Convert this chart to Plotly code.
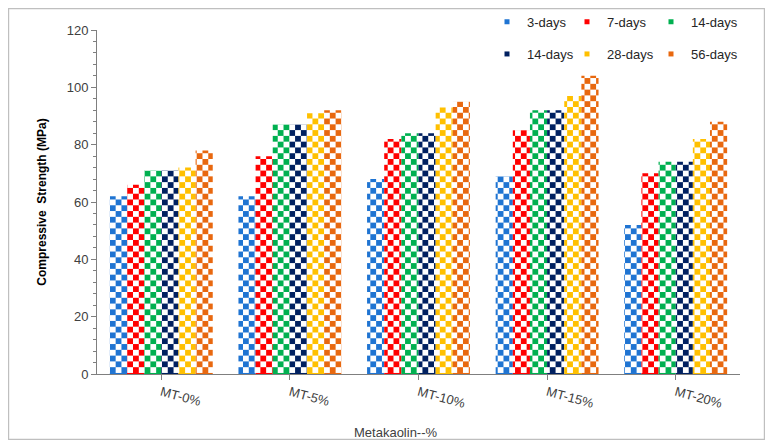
import base64
import plotly.graph_objects as go

categories = ["MT-0%", "MT-5%", "MT-10%", "MT-15%", "MT-20%"]
series_names = ["3-days", "7-days", "14-days", "14-days", "28-days", "56-days"]
days_3 = [62, 62, 68, 69, 52]
days_7 = [66, 76, 82, 85, 70]
days_14a = [71, 87, 84, 92, 74]
days_14b = [71, 87, 84, 92, 74]
days_28 = [72, 91, 93, 97, 82]
days_56 = [78, 92, 95, 104, 88]
colors = ["#1F74D2", "#FF0000", "#00B050", "#002060", "#FFC000", "#E8680F"]
y_ticks = [0, 20, 40, 60, 80, 100, 120]

values = [days_3, days_7, days_14a, days_14b, days_28, days_56]

# page has an 8px body margin, so the figure is sized to fit the 773x448 window
OFF = 8
W, H = 773 - 2 * OFF, 448 - 2 * OFF
ML, MT = 97 - OFF, 30 - OFF
MR, MB = W - (740 - OFF), H - (374 - OFF)
PW, PH = W - ML - MR, H - MT - MB
FONT = "Arial, Liberation Sans, sans-serif"


def px(X):
    return (X - OFF - ML) / PW


def py(Y):
    return (MT + PH - (Y - OFF)) / PH


fig = go.Figure()
for name, vals, col in zip(series_names, values, colors):
    fig.add_trace(go.Bar(x=categories, y=vals, name=name, marker=dict(color=col, line=dict(width=0)),
                         showlegend=False))

# legend proxies (small square swatches), one legend box per entry (3 columns x 2 rows)
legend_ids = ["legend", "legend2", "legend3", "legend4", "legend5", "legend6"]
for name, col, lid in zip(series_names, colors, legend_ids):
    fig.add_trace(go.Scatter(x=[None], y=[None], mode="markers", name=name,
                             marker=dict(symbol="square", size=5, color=col), legend=lid))

# checkerboard texture mask (white squares) over the bar area
s = 5.8
svg = (f"<svg xmlns='http://www.w3.org/2000/svg' width='{PW}' height='{PH}'>"
       f"<defs><pattern id='p' width='{2*s}' height='{2*s}' patternUnits='userSpaceOnUse' x='0' y='{PH % (2*s)}'>"
       f"<rect width='{s}' height='{s}' fill='white'/>"
       f"<rect x='{s}' y='{s}' width='{s}' height='{s}' fill='white'/></pattern></defs>"
       f"<rect width='100%' height='100%' fill='url(#p)'/></svg>")
src = "data:image/svg+xml;base64," + base64.b64encode(svg.encode()).decode()
fig.add_layout_image(dict(source=src, xref="paper", yref="paper", x=0.002, y=1, sizex=0.998, sizey=0.997,
                          xanchor="left", yanchor="top", sizing="stretch", layer="above"))

leg_common = dict(orientation="h", font=dict(family=FONT, size=13, color="#262626"),
                  bgcolor="rgba(0,0,0,0)", xanchor="left", yanchor="middle", itemwidth=30)
text_x = [528, 608, 692]
row_y = [21.7, 54]
legends = {}
for k, lid in enumerate(legend_ids):
    legends[lid] = dict(x=px(text_x[k % 3] - 41), y=py(row_y[k // 3]), **leg_common)

fig.update_layout(
    width=W, height=H,
    margin=dict(l=ML, r=MR, t=MT, b=MB, autoexpand=False),
    paper_bgcolor="white", plot_bgcolor="white",
    barmode="group", bargap=0.2, bargroupgap=0,
    font=dict(family=FONT, size=13, color="#404040"),
    xaxis=dict(type="category", showline=True, linecolor="#7F7F7F", linewidth=1,
               ticks="outside", ticklen=5, tickcolor="#7F7F7F", tickangle=15,
               tickfont=dict(family=FONT, size=13, color="#404040"), showgrid=False, zeroline=False),
    yaxis=dict(range=[0, 120], tickvals=y_ticks, showline=True, linecolor="#7F7F7F", linewidth=1,
               ticks="outside", ticklen=5, tickcolor="#7F7F7F",
               minor=dict(dtick=4, ticks="outside", ticklen=3, tickcolor="#7F7F7F", showgrid=False),
               tickfont=dict(family=FONT, size=13, color="#404040"), showgrid=False, zeroline=False,
               title=dict(text="<b>Compressive\u00a0 Strength (MPa)</b>", standoff=17,
                          font=dict(family=FONT, size=12, color="#000000"))),
    **legends,
)

fig.add_annotation(text="Metakaolin--%", xref="paper", yref="paper",
                   x=px(396), y=py(432), showarrow=False,
                   font=dict(family=FONT, size=13, color="#404040"), xanchor="center", yanchor="middle")

fig.add_shape(type="rect", xref="paper", yref="paper",
              x0=px(8.6), x1=px(764.4), y0=py(439.4), y1=py(8.6),
              line=dict(color="#BFBFBF", width=1.2), fillcolor="rgba(0,0,0,0)", layer="above")

fig.write_html("out.html")
